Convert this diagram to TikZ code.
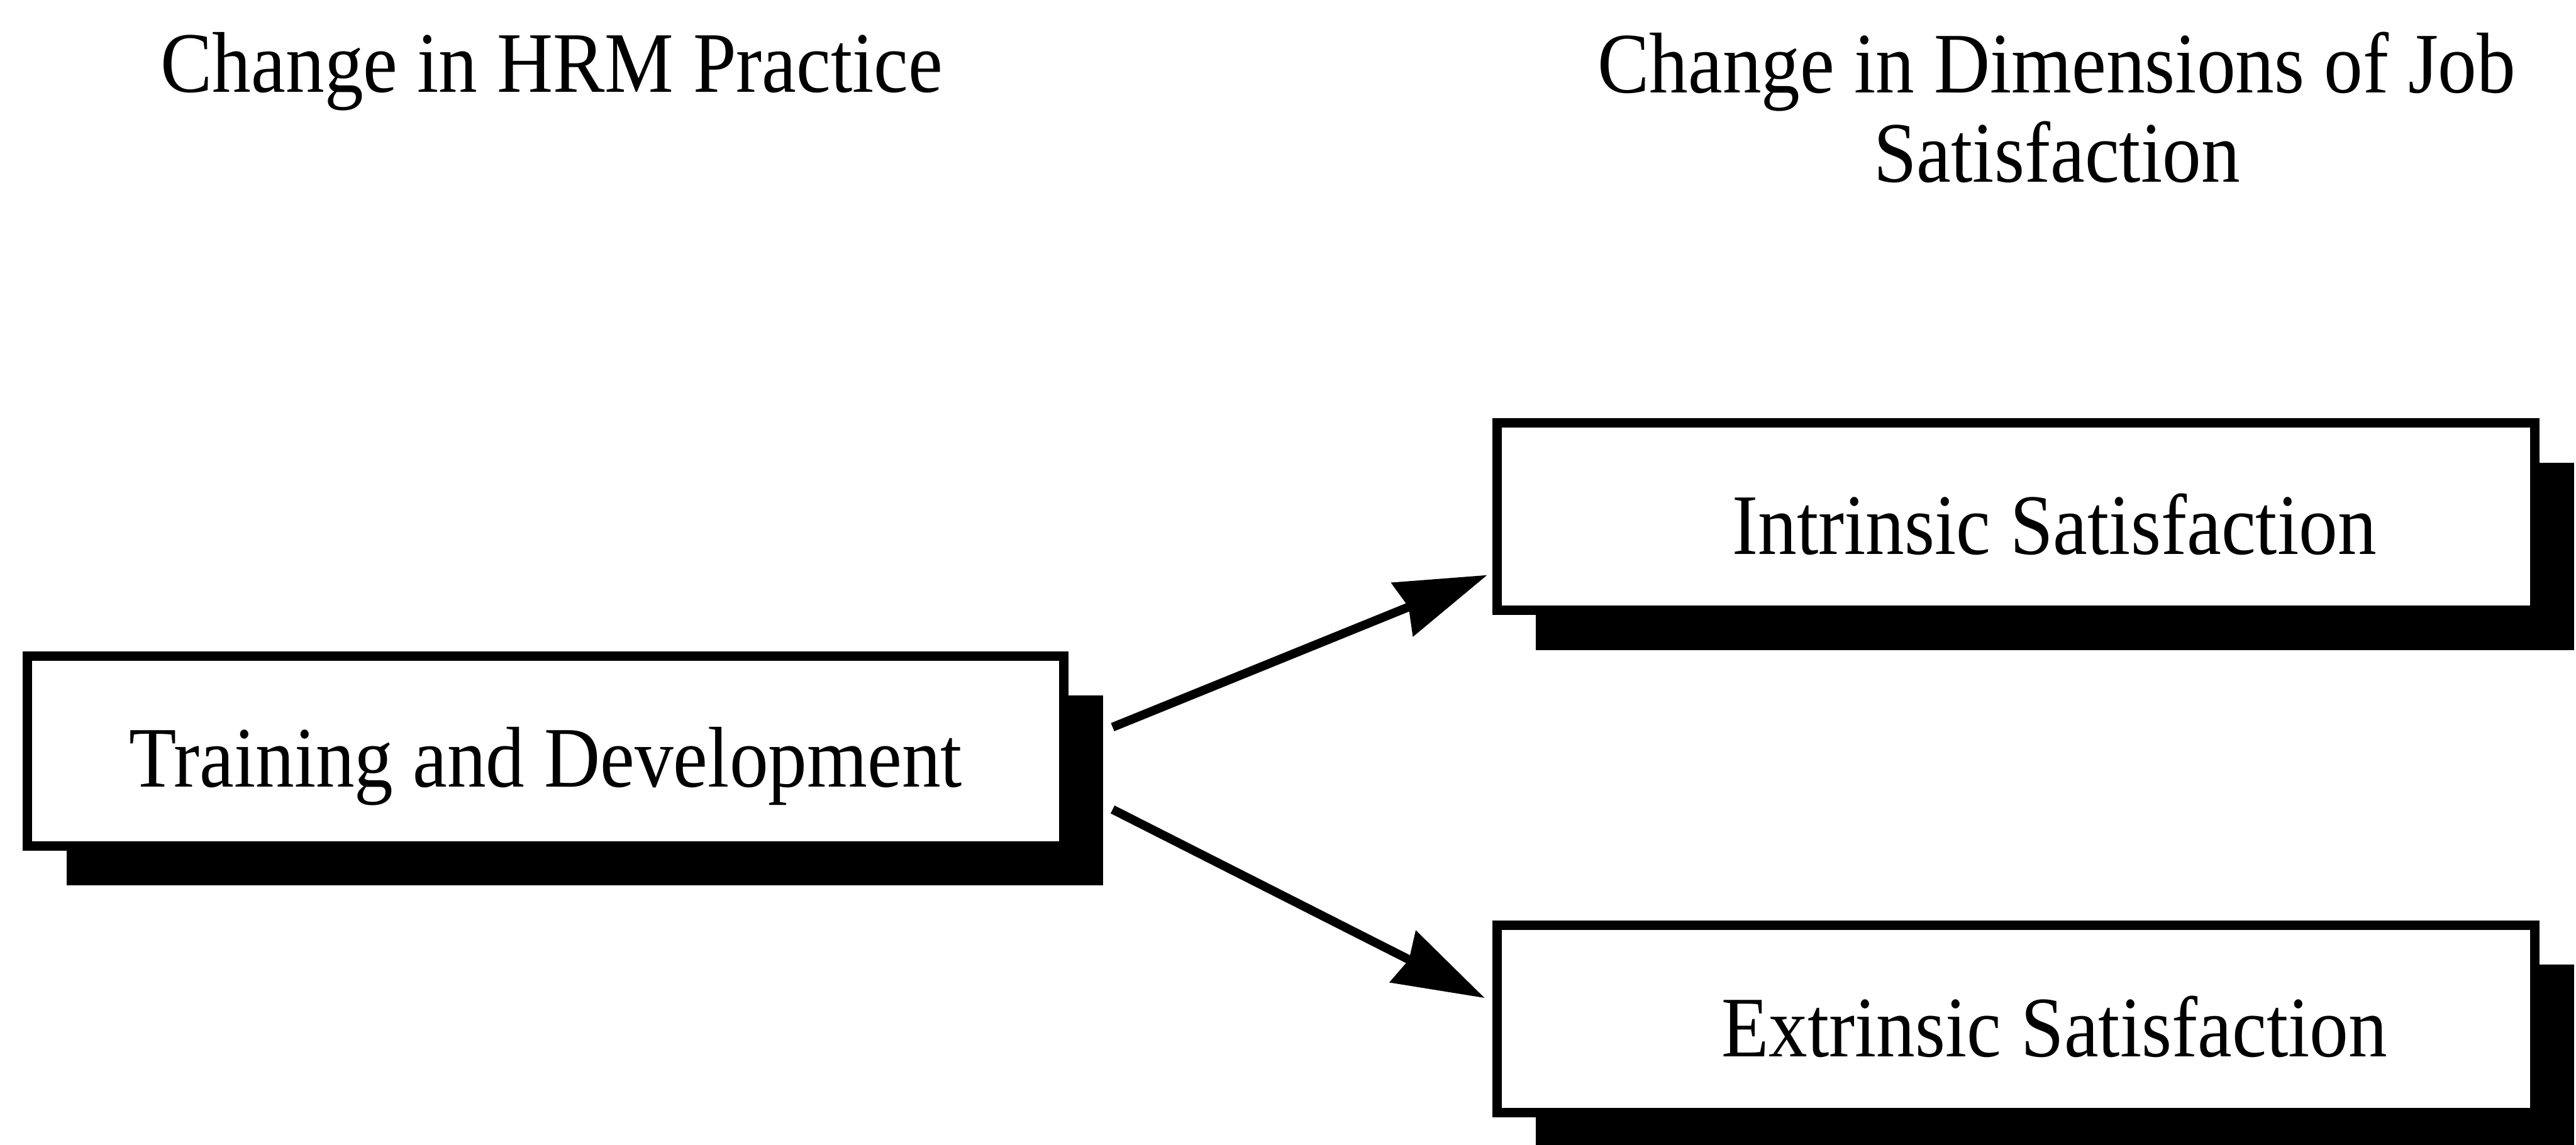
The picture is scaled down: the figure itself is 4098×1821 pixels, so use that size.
\documentclass[tikz,border=0pt]{standalone}
\usepackage{fontspec}
\setmainfont{Liberation Serif}[FakeStretch=0.9]
\usetikzlibrary{arrows.meta,shadows}
\begin{document}
\begin{tikzpicture}[x=0.01cm, y=-0.01cm,
  font=\fontsize{39}{40.5}\selectfont,
  box/.style={draw=black, fill=white, line width=0.15cm, inner sep=0pt,
    minimum width=16.5cm, minimum height=2.98cm,
    text height=1.2cm, text depth=0cm,
    drop shadow={shadow xshift=0.62cm, shadow yshift=-0.63cm, fill=black, opacity=1}},
  link/.style={line width=0.14cm, -{Stealth[length=1.45cm, width=0.9cm, inset=0.1cm]}},
  heading/.style={anchor=base, inner sep=0pt, align=center}]
\clip (0,0) rectangle (4098,1821);

% column headings (base anchor sits on the last line)
\node[heading] (hleft) at (878,147) {Change in HRM Practice};
\node[heading] (hright) at (3272,290) {Change in Dimensions of Job\\Satisfaction};

% boxes
\node[box, minimum width=16.48cm, minimum height=3.02cm, text height=1.14cm] (td) at (868,1195) {Training and Development};
\node[box] (is) at (3207,822) {\hspace*{1.22cm}Intrinsic Satisfaction};
\node[box] (es) at (3207,1621) {\hspace*{1.22cm}Extrinsic Satisfaction};

% connectors
\draw[link] ([shift={(70,-38)}]td.east) -- ([shift={(-8,93)}]is.west);
\draw[link] ([shift={(70,93)}]td.east) -- ([shift={(-12,-33)}]es.west);
\end{tikzpicture}
\end{document}
